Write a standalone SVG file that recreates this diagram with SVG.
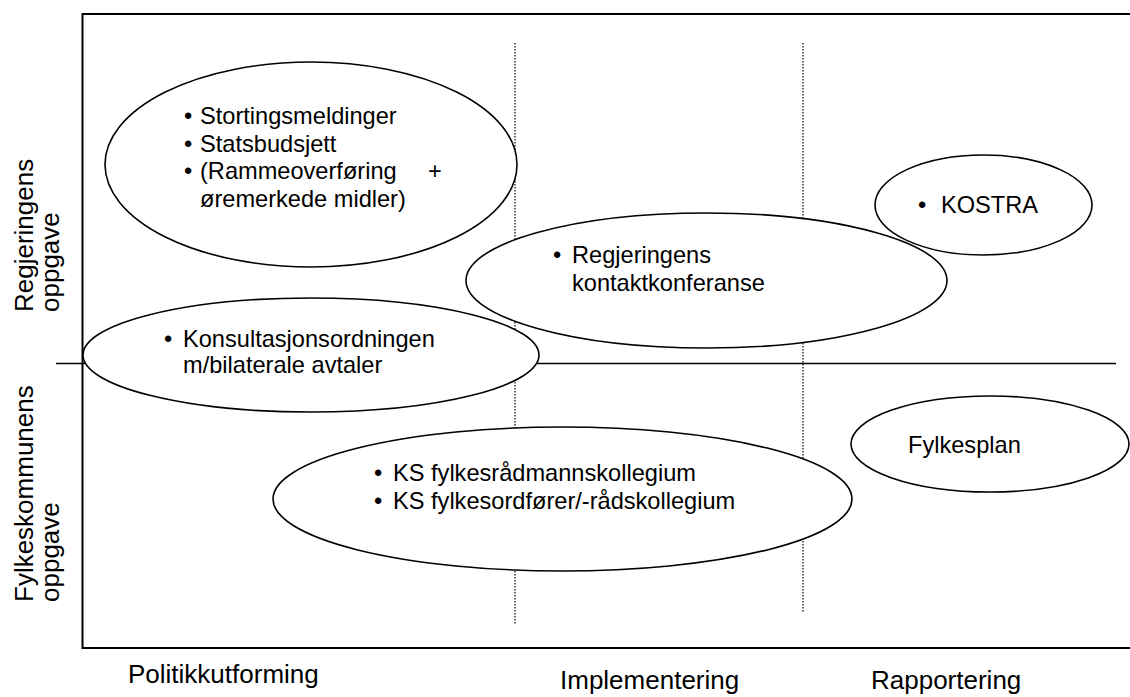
<svg xmlns="http://www.w3.org/2000/svg" width="1130" height="697" viewBox="0 0 1130 697">
<style>
text{font-family:"Liberation Sans",Arial,sans-serif;fill:#000}
.in{font-size:23.6px}
.ax{font-size:26px}
.el{fill:#fff;stroke:#000;stroke-width:1.6}
.frame{fill:none;stroke:#000;stroke-width:2}
.mid{stroke:#000;stroke-width:1.6}
.dot{stroke:#000;stroke-width:1.2;stroke-dasharray:1.5 1.5}
</style>
<rect width="1130" height="697" fill="#fff"/>
<g id="grid">
<rect class="frame" x="82.5" y="14" width="1100" height="634"/>
<line class="mid" x1="56" y1="363.5" x2="1116" y2="363.5"/>
<line class="dot" x1="515" y1="43" x2="515" y2="625"/>
<line class="dot" x1="803" y1="43" x2="803" y2="612"/>
</g>
<g id="axis-labels">
<text class="ax" transform="translate(33,312) rotate(-90)">Regjeringens</text>
<text class="ax" transform="translate(59,312) rotate(-90)">oppgave</text>
<text class="ax" transform="translate(33,602) rotate(-90)">Fylkeskommunens</text>
<text class="ax" transform="translate(59,602) rotate(-90)">oppgave</text>
<text class="ax" x="128" y="683">Politikkutforming</text>
<text class="ax" x="560" y="689">Implementering</text>
<text class="ax" x="871" y="689">Rapportering</text>
</g>
<g id="node-stortings">
<ellipse class="el" cx="311" cy="164.5" rx="206" ry="102.5"/>
<text class="in" x="184" y="124">•</text><text class="in" x="200" y="124">Stortingsmeldinger</text>
<text class="in" x="184" y="151.5">•</text><text class="in" x="200" y="151.5">Statsbudsjett</text>
<text class="in" x="184" y="179">•</text><text class="in" x="200" y="179">(Rammeoverføring</text><text class="in" x="428" y="179">+</text>
<text class="in" x="200" y="206.5">øremerkede midler)</text>
</g>
<g id="node-konsultasjon">
<ellipse class="el" cx="311" cy="355" rx="228" ry="57"/>
<text class="in" x="164" y="347">•</text><text class="in" x="183" y="347">Konsultasjonsordningen</text>
<text class="in" x="183" y="373">m/bilaterale avtaler</text>
</g>
<g id="node-kostra">
<ellipse class="el" cx="983.5" cy="205" rx="108.5" ry="50"/>
<text class="in" x="918" y="213">•</text><text class="in" x="941" y="213">KOSTRA</text>
</g>
<g id="node-kontaktkonferanse">
<ellipse class="el" cx="706.5" cy="280.5" rx="240.5" ry="67.5"/>
<text class="in" x="553" y="263">•</text><text class="in" x="572" y="263">Regjeringens</text>
<text class="in" x="572" y="291">kontaktkonferanse</text>
</g>
<g id="node-ks">
<ellipse class="el" cx="562.5" cy="499" rx="289.5" ry="72"/>
<text class="in" x="374" y="481">•</text><text class="in" x="393" y="481">KS fylkesrådmannskollegium</text>
<text class="in" x="374" y="509">•</text><text class="in" x="393" y="509">KS fylkesordfører/-rådskollegium</text>
</g>
<g id="node-fylkesplan">
<ellipse class="el" cx="990" cy="444" rx="139" ry="48"/>
<text class="in" x="908" y="453">Fylkesplan</text>
</g>
</svg>
